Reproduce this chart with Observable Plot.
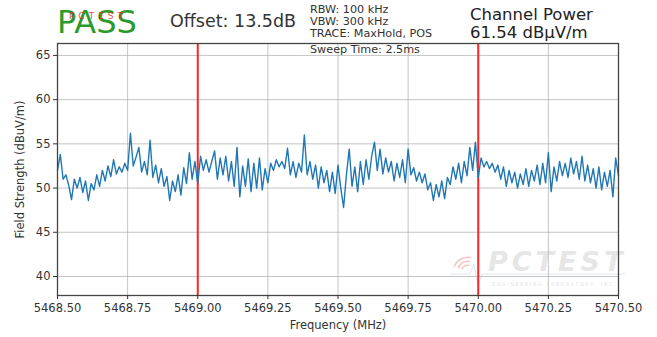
<!DOCTYPE html>
<html><head><meta charset="utf-8">
<script src="https://cdn.jsdelivr.net/npm/d3@7"></script>
<script src="https://cdn.jsdelivr.net/npm/@observablehq/plot@0.6"></script>
<style>
html,body{margin:0;padding:0;background:#fff;}
#chart{width:657px;height:337px;overflow:hidden;}
</style></head><body><div id="chart"></div>
<script>
const startFreq = 5468.50;
const stepFreq = 0.01;
const level = [
52.0,53.8,51.0,51.5,50.3,48.7,51.0,50.0,51.2,49.5,
50.8,48.6,50.5,49.8,51.5,50.2,52.0,50.8,52.5,51.3,
53.2,51.6,52.4,51.8,52.8,52.0,56.2,52.5,53.5,54.6,
51.8,53.0,51.5,55.4,51.2,52.6,50.6,52.2,50.2,51.3,
48.6,50.8,49.6,51.5,49.2,52.3,50.5,54.0,51.0,53.0,
50.5,53.6,52.0,53.2,51.8,53.0,54.2,51.0,53.4,51.5,
53.6,50.8,53.0,50.2,54.6,49.0,52.5,50.2,53.3,49.6,
52.8,50.0,53.4,49.8,52.2,50.6,52.8,52.0,53.2,52.4,
53.0,52.2,54.5,51.5,53.0,51.2,52.8,51.8,56.0,51.5,
53.0,51.0,52.6,50.0,52.4,50.6,52.0,49.6,51.8,49.4,
52.6,50.0,47.8,51.5,54.4,50.2,52.4,49.6,53.0,50.4,
53.2,51.0,53.6,55.2,52.0,54.4,51.6,53.4,51.8,53.0,
50.8,52.8,51.2,53.2,50.6,54.4,51.5,52.3,50.8,51.8,
50.6,51.6,49.8,50.6,48.6,50.4,49.0,50.8,48.8,51.2,
50.4,52.4,51.0,52.8,50.6,53.0,51.4,54.6,52.0,55.2,
51.2,53.4,52.4,53.0,52.2,52.8,51.8,52.6,51.0,52.4,
50.2,52.0,50.6,51.8,50.0,51.6,50.4,52.2,50.2,52.0,
50.8,52.6,50.4,52.8,50.6,54.0,49.6,52.4,50.8,53.0,
51.4,52.8,51.2,53.4,51.6,53.0,51.0,53.6,50.8,52.6,
50.6,52.2,50.0,52.4,49.8,51.8,50.2,52.0,49.0,53.4,
51.4
];
const markerFreqs = [5469.00, 5470.00];
const xTicks = [5468.50, 5468.75, 5469.00, 5469.25, 5469.50, 5469.75, 5470.00, 5470.25, 5470.50];
const yTicks = [40, 45, 50, 55, 60, 65];
const statusText = "PASS";
const statusStamp = "PCTEST";
const offsetText = "Offset: 13.5dB";
const settingLines = ["RBW: 100 kHz", "VBW: 300 kHz", "TRACE: MaxHold, POS", "Sweep Time: 2.5ms"];
const powerTitle = "Channel Power";
const powerValue = "61.54 dB\u00b5V/m";
const watermarkName = "PCTEST";
const watermarkSub = "ENGINEERING LABORATORY, INC.";

const trace = level.map((v, i) => ({freq: startFreq + i * stepFreq, level: v}));

const chart = Plot.plot({
  width: 657, height: 337,
  marginLeft: 57, marginRight: 39, marginTop: 43, marginBottom: 42,
  style: {fontFamily: "DejaVu Sans", fontSize: "11px", color: "#333", background: "#fff"},
  x: {domain: [5468.5, 5470.5]},
  y: {domain: [37.85, 66.35]},
  marks: [
    Plot.gridX(xTicks, {stroke: "#b0b0b0", strokeOpacity: 0.75}),
    Plot.gridY(yTicks, {stroke: "#b0b0b0", strokeOpacity: 0.75}),
    Plot.ruleX(markerFreqs, {stroke: "#ff2626", strokeWidth: 2}),
    Plot.line(trace, {x: "freq", y: "level", stroke: "#1f77b4", strokeWidth: 1.4}),
    Plot.frame({stroke: "#444", strokeWidth: 1.3}),
    Plot.axisX(xTicks, {tickFormat: d3.format(".2f"), tickSize: 4, tickPadding: 4, fontSize: 11.5,
      label: "Frequency (MHz)", labelAnchor: "center", labelArrow: "none", labelOffset: 33}),
    Plot.axisY(yTicks, {tickSize: 4, tickPadding: 3, fontSize: 11.5,
      label: "Field Strength (dBuV/m)", labelAnchor: "center", labelArrow: "none", labelOffset: 42})
  ]
});
document.getElementById("chart").appendChild(chart);

const svg = d3.select(chart);
// watermark (behind marks)
const wm = svg.insert("g", ":first-child").attr("opacity", 0.45).attr("text-anchor", "start");
wm.append("path").attr("d", "M450,274 L470,274 L474,264 L478,286 L482,274 L625,274")
  .attr("fill", "none").attr("stroke", "#b8c8dc").attr("stroke-width", 1);
[6, 10, 14].forEach(r => {
  wm.append("path").attr("d", d3.arc()({innerRadius: r, outerRadius: r + 1.6, startAngle: -1.2, endAngle: 0.2}))
    .attr("transform", "translate(468,272)").attr("fill", "#f08080");
});
wm.append("text").attr("x", 488).attr("y", 271).text(watermarkName)
  .attr("font-family", "DejaVu Sans").attr("font-size", 27).attr("font-weight", "bold")
  .attr("font-style", "italic").attr("letter-spacing", 4).attr("fill", "#c8c8c8");
wm.append("text").attr("x", 492).attr("y", 286).text(watermarkSub)
  .attr("font-family", "DejaVu Sans").attr("font-size", 5).attr("letter-spacing", 1.5).attr("fill", "#c0c0c0");

const hdr = svg.append("g").attr("font-family", "DejaVu Sans").attr("text-anchor", "start");
hdr.append("text").attr("x", 57).attr("y", 33).text(statusText)
  .attr("font-size", 32).attr("fill", "#2a9a2a");
hdr.append("text").attr("x", 98).attr("y", 19).text(statusStamp)
  .attr("font-size", 9).attr("text-anchor", "middle").attr("letter-spacing", 4).attr("fill", "#d62728").attr("opacity", 0.8);
hdr.append("text").attr("x", 170).attr("y", 27).text(offsetText)
  .attr("font-size", 17.5).attr("fill", "#333");
const ys = [13, 25, 37, 53];
settingLines.forEach((t, i) => {
  hdr.append("text").attr("x", 310).attr("y", ys[i]).text(t).attr("font-size", 11.2).attr("fill", "#333");
});
hdr.append("text").attr("x", 470).attr("y", 20).text(powerTitle).attr("font-size", 16.5).attr("fill", "#222");
hdr.append("text").attr("x", 470).attr("y", 38).text(powerValue).attr("font-size", 16.5).attr("fill", "#222");
</script></body></html>
